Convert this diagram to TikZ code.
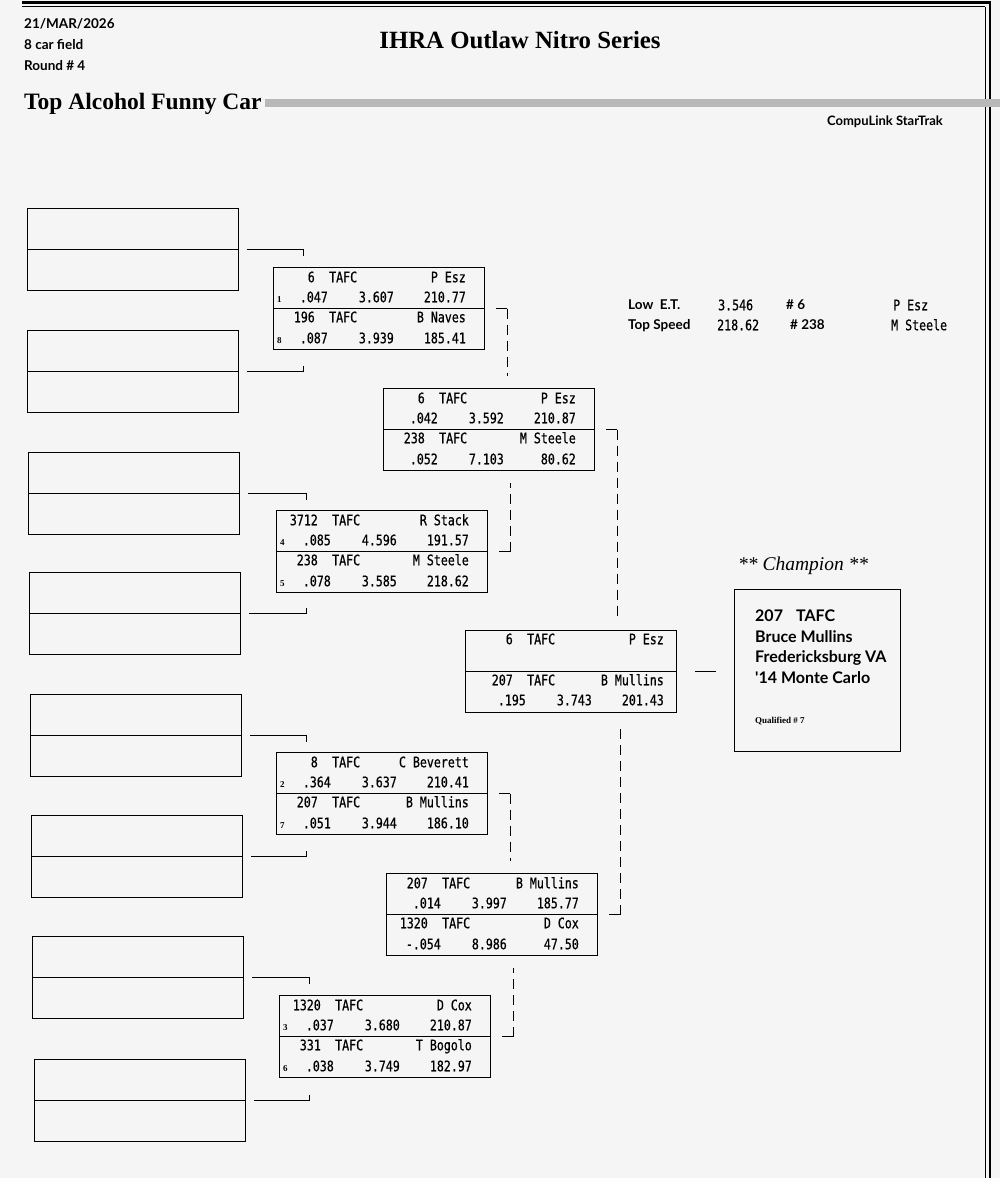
\documentclass[tikz,border=0pt]{standalone}
\usepackage{fontspec}
\setmainfont{Liberation Serif}
\newfontfamily\sansfnt{Lato}
\newfontfamily\monofnt[FakeStretch=0.8, FakeBold=0.6]{DejaVu Sans Mono}
\usetikzlibrary{calc}
\usetikzlibrary{positioning}

\tikzset{
  emptybox/.style={draw, line width=1.2pt, anchor=north west, minimum width=211pt, minimum height=82pt, inner sep=0pt},
  matchbox/.style={draw, line width=1.1pt, anchor=north west, minimum width=211pt, minimum height=82pt, inner sep=0pt},
  mono/.style={font=\monofnt\fontsize{14.5}{16}\selectfont, inner sep=0pt, text height=10.5pt, text depth=0pt},
  seedno/.style={font=\bfseries\fontsize{9}{10}\selectfont, inner sep=0pt, anchor=west, text height=6pt, text depth=0pt},
  hdr/.style={font=\sansfnt\bfseries\fontsize{13.5}{15}\selectfont, inner sep=0pt, anchor=west, text height=9.5pt, text depth=0pt},
  side/.style={hdr, font=\sansfnt\bfseries\fontsize{13.5}{15}\selectfont},
  champtxt/.style={hdr, font=\sansfnt\bfseries\fontsize{16}{18}\selectfont, text height=11.5pt},
  bracket/.style={line width=1pt},
  dashline/.style={line width=1pt, dash pattern=on 10pt off 6pt},
}

% shift of the texts inside a box
\newcommand{\xs}{0}
% car number, class and driver on one line of a box
\newcommand{\carline}[4]{%
  \node[mono, anchor=east] (#1n#2) at ($(#1.north west)+(42+\xs,#2)$) {#3};
  \node[mono, anchor=west] (#1c#2) at ($(#1.north west)+(56+\xs,#2)$) {TAFC};
  \node[mono, anchor=east] (#1d#2) at ($(#1.north west)+(193+\xs,#2)$) {#4};}
% reaction time, e.t. and speed
\newcommand{\runline}[5]{%
  \node[mono, anchor=east] (#1r#2) at ($(#1.north west)+(55+\xs,#2)$) {#3};
  \node[mono, anchor=east] (#1e#2) at ($(#1.north west)+(121+\xs,#2)$) {#4};
  \node[mono, anchor=east] (#1s#2) at ($(#1.north west)+(193+\xs,#2)$) {#5};}

\begin{document}
\begin{tikzpicture}[x=1pt, y=-1pt]
  \fill[black!4] (0,0) rectangle (1000,1178);
  \useasboundingbox (0,0) rectangle (1000,1178);

  % frame
  \draw[line width=2.4pt] (22,2.5) -- (990,2.5);
  \draw[line width=0.8pt] (22,6.5) -- (985,6.5);
  \draw[line width=0.8pt] (985,6.5) -- (985,1178);
  \draw[line width=1.6pt] (990,1.3) -- (990,1178);

  % header
  \node[hdr] (date) at (24,24) {21/MAR/2026};
  \node[hdr] (field) at (24,45) {8 car field};
  \node[hdr] (round) at (24,66) {Round \# 4};
  \node[font=\bfseries\fontsize{24.8}{26}\selectfont, inner sep=0pt] (title) at (520,40) {IHRA Outlaw Nitro Series};
  \node[font=\bfseries\fontsize{23.5}{25}\selectfont, inner sep=0pt, anchor=west] (cls) at (24,104) {Top Alcohol Funny Car};
  \fill[black!28] (265,99) rectangle (1000,107);
  \node[hdr, anchor=east, font=\sansfnt\bfseries\fontsize{13}{15}\selectfont] (soft) at (943,121) {CompuLink StarTrak};

  % qualifying boxes
  \foreach \i/\x/\y in {1/27/208, 2/27/330, 3/28/452, 4/29/572, 5/30/694, 6/31/815, 7/32/936, 8/34/1059} {
    \node[emptybox] (q\i) at (\x,\y) {};
    \draw[line width=1.2pt] (q\i.west) -- (q\i.east);
  }

  % round 1
  \node[matchbox] (r1a) at (273,267) {};
  \node[matchbox] (r1b) at (276,510) {};
  \node[matchbox] (r1c) at (276,752) {};
  \node[matchbox] (r1d) at (279,995) {};
  % round 2
  \node[matchbox] (r2a) at (383,388) {};
  \node[matchbox] (r2b) at (386,873) {};
  % final
  \node[matchbox] (fin) at (465,630) {};
  \foreach \m in {r1a, r1b, r1c, r1d, r2a, r2b, fin}
    \draw[line width=1.1pt] (\m.west) -- (\m.east);

  \carline{r1a}{10}{6}{P Esz}
  \runline{r1a}{30}{.047}{3.607}{210.77}
  \carline{r1a}{50}{196}{B Naves}
  \runline{r1a}{71}{.087}{3.939}{185.41}
  \node[seedno] (s1) at ($(r1a.north west)+(4,32)$) {1};
  \node[seedno] (s8) at ($(r1a.north west)+(4,73)$) {8};

  \carline{r1b}{10}{3712}{R Stack}
  \runline{r1b}{30}{.085}{4.596}{191.57}
  \carline{r1b}{50}{238}{M Steele}
  \runline{r1b}{71}{.078}{3.585}{218.62}
  \node[seedno] (s4) at ($(r1b.north west)+(4,32)$) {4};
  \node[seedno] (s5) at ($(r1b.north west)+(4,73)$) {5};

  \carline{r1c}{10}{8}{C Beverett}
  \runline{r1c}{30}{.364}{3.637}{210.41}
  \carline{r1c}{50}{207}{B Mullins}
  \runline{r1c}{71}{.051}{3.944}{186.10}
  \node[seedno] (s2) at ($(r1c.north west)+(4,32)$) {2};
  \node[seedno] (s7) at ($(r1c.north west)+(4,73)$) {7};

  \carline{r1d}{10}{1320}{D Cox}
  \runline{r1d}{30}{.037}{3.680}{210.87}
  \carline{r1d}{50}{331}{T Bogolo}
  \runline{r1d}{71}{.038}{3.749}{182.97}
  \node[seedno] (s3) at ($(r1d.north west)+(4,32)$) {3};
  \node[seedno] (s6) at ($(r1d.north west)+(4,73)$) {6};

  \carline{r2a}{10}{6}{P Esz}
  \runline{r2a}{30}{.042}{3.592}{210.87}
  \carline{r2a}{50}{238}{M Steele}
  \runline{r2a}{71}{.052}{7.103}{80.62}

  \carline{r2b}{10}{207}{B Mullins}
  \runline{r2b}{30}{.014}{3.997}{185.77}
  \carline{r2b}{50}{1320}{D Cox}
  \runline{r2b}{71}{-.054}{8.986}{47.50}

  \renewcommand{\xs}{6}
  \carline{fin}{9}{6}{P Esz}
  \carline{fin}{50}{207}{B Mullins}
  \runline{fin}{70}{.195}{3.743}{201.43}
  \renewcommand{\xs}{0}

  % lines from the qualifying boxes
  \foreach \a/\b/\m in {q1/q2/r1a, q3/q4/r1b, q5/q6/r1c, q7/q8/r1d} {
    \draw[bracket] ($(\a.east)+(8,0)$) -- ($(\m.west |- \a.east)+(30,0)$) -- ++(0,6);
    \draw[bracket] ($(\b.east)+(8,0)$) -- ($(\m.west |- \b.east)+(30,0)$) -- ++(0,-6);
  }

  % dashed brackets
  \foreach \a/\b/\m in {r1a/r1b/r2a, r1c/r1d/r2b, r2a/r2b/fin} {
    \coordinate (\a-t) at ($(\a.east)+(22,0)$);
    \coordinate (\b-t) at ($(\b.east)+(22,0)$);
    \draw[bracket] ($(\a.east)+(11,0)$) -- (\a-t);
    \draw[dashline] (\a-t) -- ($(\a-t |- \m.north)+(0,-12)$);
    \draw[bracket] ($(\b.east)+(11,0)$) -- (\b-t);
    \draw[dashline] (\b-t) -- ($(\b-t |- \m.south)+(0,12)$);
  }

  % low e.t. and top speed
  \node[side] (lo1) at (628,305) {Low\ \ E.T.};
  \node[mono, anchor=west] (lo2) at (718,305) {3.546};
  \node[side] (lo3) at (786,305) {\# 6};
  \node[mono, anchor=west] (lo4) at (893,305) {P Esz};
  \node[side] (ts1) at (628,325) {Top Speed};
  \node[mono, anchor=west] (ts2) at (717,325) {218.62};
  \node[side] (ts3) at (790,325) {\# 238};
  \node[mono, anchor=west] (ts4) at (891,325) {M Steele};

  % champion
  \node[font=\itshape\fontsize{19.5}{21}\selectfont, inner sep=0pt, anchor=west] (champt) at (738,566) {** Champion **};
  \node[draw, line width=1.1pt, anchor=north west, minimum width=166pt, minimum height=162pt, inner sep=0pt] (champ) at (734,589) {};
  \node[champtxt] (c1) at (755,616) {207\hspace{13pt}TAFC};
  \node[champtxt] (c2) at (755,637) {Bruce Mullins};
  \node[champtxt] (c3) at (755,657) {Fredericksburg VA};
  \node[champtxt] (c4) at (755,678) {'14 Monte Carlo};
  \node[seedno, font=\bfseries\fontsize{9}{10}\selectfont] (qual) at (755,720) {Qualified \# 7};
  \draw[bracket] ($(fin.east)+(18,0)$) -- ($(champ.west |- fin.east)+(-18,0)$);
\end{tikzpicture}
\end{document}
